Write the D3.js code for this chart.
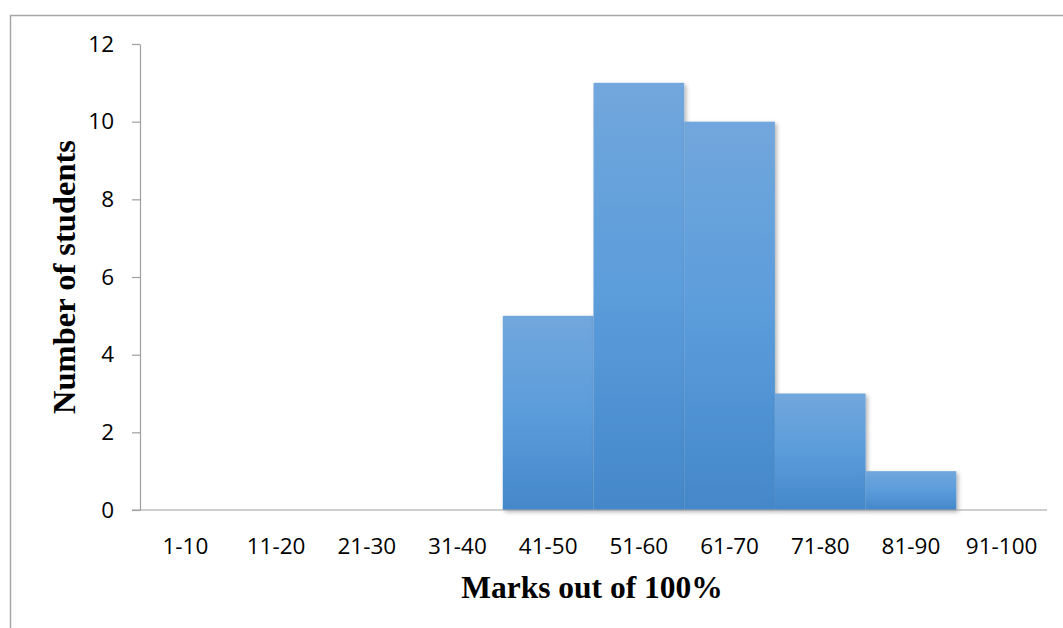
<!DOCTYPE html>
<html>
<head>
<meta charset="utf-8">
<script src="https://cdn.jsdelivr.net/npm/d3@7"></script>
<style>
  html, body { margin: 0; padding: 0; background: #fff; }
  svg { display: block; }
</style>
</head>
<body>
<svg id="chart" width="1063" height="628"></svg>
<script>
const categories = ["1-10","11-20","21-30","31-40","41-50","51-60","61-70","71-80","81-90","91-100"];
const counts = [0, 0, 0, 0, 5, 11, 10, 3, 1, 0];
const yTicks = [0, 2, 4, 6, 8, 10, 12];
const xTitle = "Marks out of 100%";
const yTitle = "Number of students";

const svg = d3.select("#chart");
const W = 1063, H = 628;
const plotLeft = 140, plotRight = 1047, plotTop = 44, plotBottom = 510;

// outer border
svg.append("rect")
  .attr("x", 10.5).attr("y", 15.5)
  .attr("width", W + 20).attr("height", H + 20)
  .attr("fill", "#fff").attr("stroke", "#a6a6a6").attr("stroke-width", 1.5);

const defs = svg.append("defs");
const grad = defs.append("linearGradient").attr("id", "barGrad")
  .attr("x1", 0).attr("y1", 0).attr("x2", 0).attr("y2", 1);
grad.append("stop").attr("offset", "0%").attr("stop-color", "#71a7dc");
grad.append("stop").attr("offset", "50%").attr("stop-color", "#5b9cdb");
grad.append("stop").attr("offset", "100%").attr("stop-color", "#4488ca");

const filt = defs.append("filter").attr("id", "shadow")
  .attr("x", "-10%").attr("y", "-10%").attr("width", "130%").attr("height", "130%");
filt.append("feDropShadow").attr("dx", 2).attr("dy", 2).attr("stdDeviation", 2)
  .attr("flood-color", "#000").attr("flood-opacity", 0.3);

const x = d3.scaleBand().domain(categories).range([plotLeft, plotRight]).padding(0);
const y = d3.scaleLinear().domain([0, 12]).range([plotBottom, plotTop]);

// bars
const bars = svg.append("g");
categories.forEach((c, i) => {
  if (counts[i] <= 0) return;
  bars.append("rect")
    .attr("x", x(c))
    .attr("y", y(counts[i]))
    .attr("width", x.bandwidth())
    .attr("height", y(0) - y(counts[i]))
    .attr("fill", "url(#barGrad)")
    .attr("filter", "url(#shadow)");
});

// y axis
const yAxis = svg.append("g")
  .attr("transform", `translate(${plotLeft},0)`)
  .call(d3.axisLeft(y).tickValues(yTicks).tickSize(8).tickSizeOuter(0).tickPadding(18));
yAxis.select(".domain").attr("stroke", "#a0a0a0").attr("stroke-width", 1.2);
yAxis.selectAll(".tick line").attr("stroke", "#a0a0a0").attr("stroke-width", 1.2);
yAxis.selectAll(".tick text")
  .attr("font-family", "'Open Sans', sans-serif")
  .attr("font-size", 22.5).attr("fill", "#000");

// x axis
const xAxis = svg.append("g")
  .attr("transform", `translate(0,${plotBottom})`)
  .call(d3.axisBottom(x).tickSize(0).tickSizeOuter(0).tickPadding(28));
xAxis.select(".domain").remove();
svg.append("line")
  .attr("x1", plotLeft - 8).attr("x2", plotRight)
  .attr("y1", plotBottom).attr("y2", plotBottom)
  .attr("stroke", "#a0a0a0").attr("stroke-width", 1.2);
xAxis.selectAll(".tick text")
  .attr("font-family", "'Open Sans', sans-serif")
  .attr("font-size", 22.5).attr("fill", "#000");

// titles
svg.append("text")
  .attr("x", 592).attr("y", 598)
  .attr("text-anchor", "middle")
  .attr("font-family", "'Liberation Serif', 'Times New Roman', serif")
  .attr("font-weight", "bold").attr("font-size", 31.5)
  .text(xTitle);

svg.append("text")
  .attr("transform", "translate(75,277) rotate(-90)")
  .attr("text-anchor", "middle")
  .attr("font-family", "'Liberation Serif', 'Times New Roman', serif")
  .attr("font-weight", "bold").attr("font-size", 32.5)
  .text(yTitle);
</script>
</body>
</html>
